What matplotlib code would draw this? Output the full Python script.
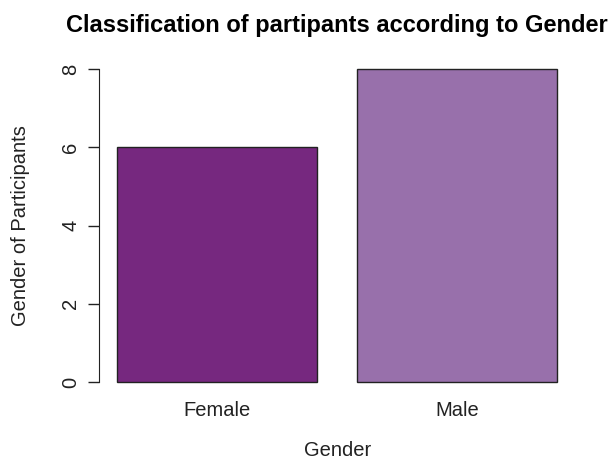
import matplotlib
matplotlib.use("Agg")
import matplotlib.pyplot as plt

categories = ["Female", "Male"]
counts = [6, 8]
colors = ["#76287f", "#9870ab"]
yticks = [0, 2, 4, 6, 8]

plt.rcParams['font.family'] = ['Liberation Sans', 'DejaVu Sans']

fig = plt.figure(figsize=(6.14, 4.59), dpi=100)
ax = fig.add_axes([0.162, 0.1405, 0.7744, 0.7364])

width = 1.0
space = 0.2
lefts = [space + i * (width + space) for i in range(len(categories))]
centers = [l + width / 2 for l in lefts]
ax.bar(centers, counts, width=width, color=colors, edgecolor="#222222", linewidth=1.0)

x0, x1 = space, space + len(categories) * (width + space) - space
ext = 0.04 * (x1 - x0)
ax.set_xlim(x0 - ext, x1 + ext)
ax.set_ylim(-0.32, 8.32)

for s in ["top", "right", "bottom"]:
    ax.spines[s].set_visible(False)
ax.spines["left"].set_bounds(0, 8)
ax.spines["left"].set_color("#222222")

ax.set_yticks(yticks)
ax.set_yticklabels([str(v) for v in yticks], rotation=90, va="center", fontsize=14.5, color="#222222")
ax.tick_params(axis="y", length=8, width=1, color="#222222", pad=6)

ax.set_xticks(centers)
ax.set_xticklabels(categories, fontsize=14.5, color="#222222")
ax.tick_params(axis="x", length=0, pad=5)

ax.set_xlabel("Gender", fontsize=14.5, color="#222222", labelpad=15)
ax.set_ylabel("Gender of Participants", fontsize=14.5, color="#222222", labelpad=22)
ax.set_title("Classification of partipants according to Gender", fontsize=17,
             fontweight="bold", pad=18)

fig.savefig("out.png", dpi=100)
